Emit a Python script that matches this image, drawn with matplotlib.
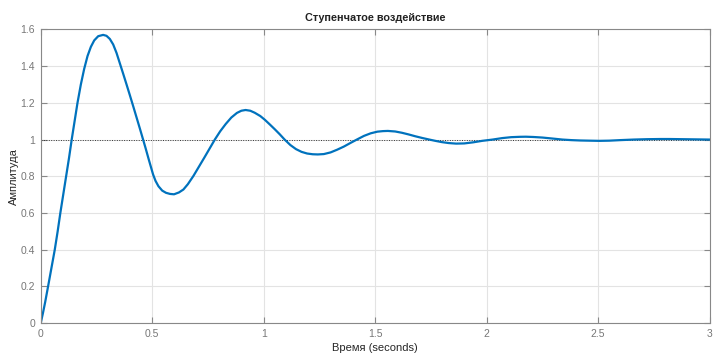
import matplotlib
matplotlib.use("Agg")
import matplotlib.pyplot as plt

# Step response
t = [0.000, 0.010, 0.020, 0.033, 0.048, 0.063, 0.076, 0.088, 0.101, 0.114,
     0.127, 0.139, 0.152, 0.165, 0.180, 0.195, 0.210, 0.225, 0.240, 0.258,
     0.280, 0.295, 0.310, 0.325, 0.340, 0.355, 0.370, 0.385, 0.400, 0.415,
     0.430, 0.445, 0.458, 0.470, 0.485, 0.495, 0.504, 0.515, 0.528, 0.545,
     0.562, 0.580, 0.598, 0.620, 0.640, 0.660, 0.685, 0.710, 0.735, 0.758,
     0.781, 0.805, 0.830, 0.855, 0.880, 0.900, 0.919, 0.940, 0.960, 0.985,
     1.005, 1.027, 1.050, 1.072, 1.094, 1.120, 1.145, 1.170, 1.195, 1.220,
     1.243, 1.270, 1.300, 1.330, 1.360, 1.390, 1.418, 1.450, 1.480, 1.510,
     1.535, 1.557, 1.590, 1.620, 1.650, 1.680, 1.710, 1.743, 1.770, 1.800,
     1.830, 1.863, 1.900, 1.940, 1.980, 2.027, 2.070, 2.110, 2.150, 2.176,
     2.210, 2.250, 2.300, 2.340, 2.380, 2.420, 2.460, 2.505, 2.550, 2.600,
     2.660, 2.720, 2.780, 2.820, 2.880, 2.940, 3.000]
amp = [0.000, 0.055, 0.115, 0.200, 0.300, 0.400, 0.500, 0.600, 0.700, 0.800,
       0.900, 1.000, 1.100, 1.200, 1.300, 1.385, 1.455, 1.505, 1.540, 1.563,
       1.570, 1.565, 1.548, 1.518, 1.472, 1.415, 1.358, 1.300, 1.241, 1.181,
       1.120, 1.059, 1.005, 0.955, 0.890, 0.848, 0.810, 0.775, 0.746, 0.722,
       0.710, 0.704, 0.702, 0.712, 0.728, 0.757, 0.802, 0.853, 0.904, 0.952,
       1.000, 1.045, 1.085, 1.120, 1.145, 1.157, 1.161, 1.157, 1.146, 1.128,
       1.108, 1.083, 1.056, 1.029, 1.000, 0.970, 0.948, 0.933, 0.924, 0.920,
       0.919, 0.921, 0.930, 0.945, 0.962, 0.982, 1.000, 1.020, 1.034, 1.043,
       1.046, 1.047, 1.044, 1.037, 1.028, 1.018, 1.009, 1.000, 0.993, 0.986,
       0.981, 0.978, 0.979, 0.985, 0.993, 1.000, 1.008, 1.013, 1.015, 1.0155,
       1.014, 1.011, 1.005, 1.000, 0.997, 0.995, 0.994, 0.993, 0.994, 0.997,
       1.000, 1.002, 1.003, 1.003, 1.002, 1.001, 1.000]
final_value = 1.0

x_ticks = [0, 0.5, 1, 1.5, 2, 2.5, 3]
x_labels = ["0", "0.5", "1", "1.5", "2", "2.5", "3"]
y_ticks = [0, 0.2, 0.4, 0.6, 0.8, 1.0, 1.2, 1.4, 1.6]
y_labels = ["0", "0.2", "0.4", "0.6", "0.8", "1", "1.2", "1.4", "1.6"]

plt.rcParams["font.family"] = ["Liberation Sans", "DejaVu Sans"]

fig = plt.figure(figsize=(7.27, 3.54), dpi=100)
ax = fig.add_axes([0.056, 0.087, 0.920, 0.830])

# Grid and steady state line
ax.grid(True, color="#e3e3e3", linewidth=0.8)
ax.set_axisbelow(True)
ax.axhline(final_value, color="#333333", linestyle=(0, (1, 1.5)), linewidth=0.7)

# Response curve
ax.plot(t, amp, color="#0072BD", linewidth=1.6)

ax.set_xlim(0, 3)
ax.set_ylim(0, 1.6)
ax.set_xticks(x_ticks, x_labels)
ax.set_yticks(y_ticks, y_labels)
ax.tick_params(direction="in", length=4, width=0.8, colors="#888888",
               labelsize=7.5, labelcolor="#777777", top=True, right=True, pad=4)
for s in ax.spines.values():
    s.set_color("#888888")
    s.set_linewidth(0.8)

ax.set_title("Ступенчатое воздействие", fontsize=7.8, fontweight="bold",
             color="#222222", pad=6)
ax.set_xlabel("Время (seconds)", fontsize=8, color="#262626", labelpad=3)
ax.set_ylabel("Амплитуда", fontsize=8, color="#262626", labelpad=1)

fig.savefig("out.png", dpi=100)
